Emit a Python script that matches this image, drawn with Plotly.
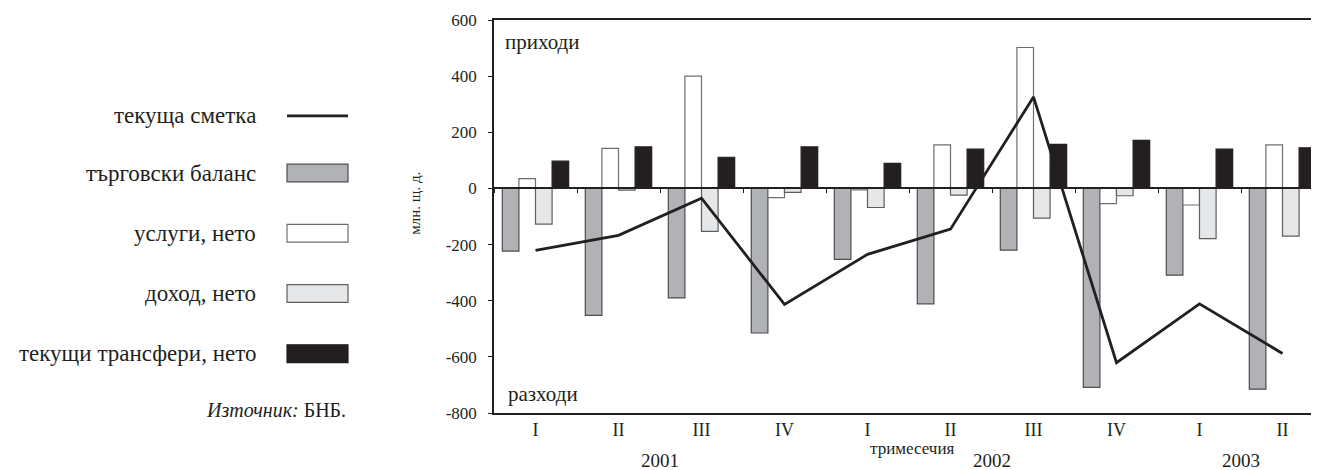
import plotly.graph_objects as go

quarters = ["I", "II", "III", "IV", "I", "II", "III", "IV", "I", "II"]
years = ["2001"] * 4 + ["2002"] * 4 + ["2003"] * 2
trade = [-223, -452, -390, -515, -253, -411, -220, -709, -309, -715]
services = [35, 143, 400, -33, -5, 155, 502, -54, -59, 155]
income = [-127, -6, -153, -14, -68, -24, -106, -26, -179, -170]
transfers = [97, 148, 111, 148, 89, 140, 157, 171, 140, 145]
current = [-221, -167, -35, -413, -235, -145, 326, -621, -411, -588]

names = ["текуща сметка", "търговски баланс", "услуги, нето", "доход, нето",
         "текущи трансфери, нето"]
y_ticks = [600, 400, 200, 0, -200, -400, -600, -800]
y_ticktext = [str(v) for v in y_ticks]

cats = [f"{y} {q}" for y, q in zip(years, quarters)]
idx = list(range(len(cats)))
year_labels = sorted(set(years))
year_centers = [sum(i for i in idx if years[i] == yl) / years.count(yl) for yl in year_labels]

W, H = 1319, 470
OFF = 8  # page body offset
L, R, T, B = 486, 3, 7, 65
PW, PH = W - L - R, H - T - B
FONT = "Liberation Serif"
INK = "#231f20"


def px(x):
    return (x - OFF - L) / PW


def py(y):
    return (H - B - (y - OFF)) / PH


fig = go.Figure()
bar_styles = [
    (trade, names[1], "#b1b2b5", "#4d4d4f"),
    (services, names[2], "#ffffff", "#6d6e70"),
    (income, names[3], "#e6e7e8", "#5d5e60"),
    (transfers, names[4], INK, INK),
]
for vals, nm, fc, lc in bar_styles:
    fig.add_trace(go.Bar(x=cats, y=vals, name=nm,
                         marker=dict(color=fc, line=dict(color=lc, width=1.2)),
                         showlegend=False))

fig.add_trace(go.Scatter(x=idx, y=current, name=names[0], mode="lines",
                         line=dict(color=INK, width=2.8), xaxis="x2", showlegend=False))

zero_pos = (0 - y_ticks[-1]) / (y_ticks[0] - y_ticks[-1])

fig.update_layout(
    width=W, height=H, autosize=False,
    margin=dict(l=L, r=R, t=T, b=B),
    paper_bgcolor="white", plot_bgcolor="white",
    font=dict(family=FONT, color=INK, size=18),
    barmode="group", bargap=0.2, bargroupgap=0,
    xaxis=dict(type="category", categoryorder="array", categoryarray=cats,
               tickvals=cats, ticktext=quarters,
               showline=True, linecolor=INK, linewidth=1.5, mirror=True,
               ticks="", showgrid=False, tickfont=dict(size=18, family=FONT)),
    xaxis2=dict(overlaying="x", anchor="free", position=zero_pos, range=[-0.5, len(cats) - 0.5],
                tickvals=[i - 0.5 for i in range(len(cats) + 1)], ticks="outside", ticklen=4,
                tickcolor=INK, showticklabels=False, showline=True, linecolor=INK, linewidth=1.5,
                showgrid=False, zeroline=False),
    yaxis=dict(range=[y_ticks[-1], y_ticks[0]], tickvals=y_ticks, ticktext=y_ticktext,
               ticks="outside", ticklen=4, ticklabeloverflow="allow",
               tickcolor=INK, showline=True, linecolor=INK, linewidth=1.5, showgrid=False,
               zeroline=False, ticklabelstandoff=8, tickfont=dict(size=17, family=FONT)),
)

ann = []
ann.append(dict(text="приходи", x=px(503), y=py(37), xanchor="left", yanchor="middle",
                font=dict(size=21)))
ann.append(dict(text="разходи", x=px(506), y=py(394), xanchor="left", yanchor="middle",
                font=dict(size=21)))
ann.append(dict(text="млн. щ. д.", x=px(415), y=py(201), textangle=-90, xanchor="center",
                yanchor="middle", font=dict(size=15)))
ann.append(dict(text="тримесечия", x=px(912), y=py(449), xanchor="center", yanchor="middle",
                font=dict(size=17)))
for yl, yc in zip(year_labels, year_centers):
    ann.append(dict(text=yl, x=yc, xref="x2", y=py(461), yref="paper", xanchor="center",
                    yanchor="middle", font=dict(size=19)))

rows = [112, 170, 231, 292, 353]
shapes = []
for i, (nm, yy) in enumerate(zip(names, rows)):
    ann.append(dict(text=nm, x=px(258), y=py(yy), xanchor="right", yanchor="middle",
                    font=dict(size=23)))
    if i == 0:
        shapes.append(dict(type="line", xref="paper", yref="paper", x0=px(287), x1=px(348),
                           y0=py(yy), y1=py(yy), line=dict(color=INK, width=2.8)))
    else:
        _, _, fc, lc = bar_styles[i - 1]
        shapes.append(dict(type="rect", xref="paper", yref="paper", x0=px(287), x1=px(348),
                           y0=py(yy - 9), y1=py(yy + 9), fillcolor=fc,
                           line=dict(color=lc, width=1.2)))
ann.append(dict(text="<i>Източник:</i> БНБ.", x=px(348), y=py(410), xanchor="right",
                yanchor="middle", font=dict(size=20)))

for a in ann:
    a.setdefault("xref", "paper")
    a.setdefault("yref", "paper")
    a["showarrow"] = False
fig.update_layout(annotations=ann, shapes=shapes)

fig.write_html("out.html")
